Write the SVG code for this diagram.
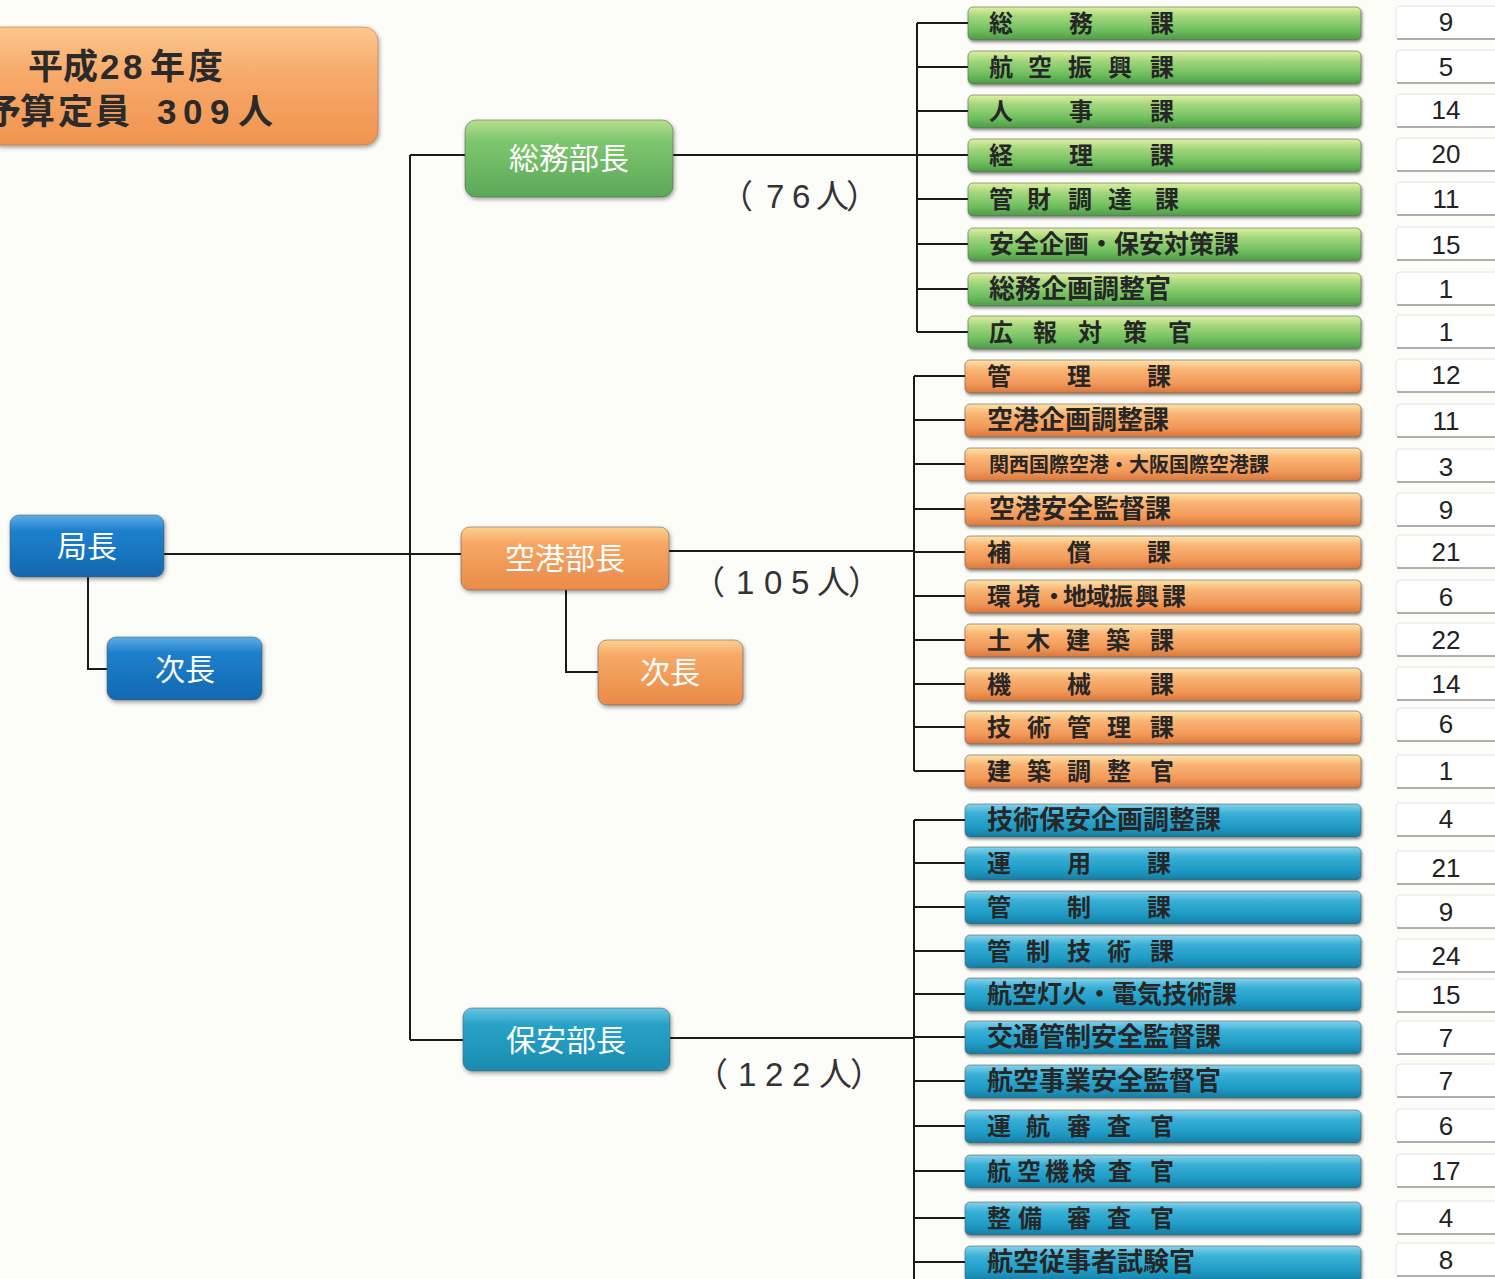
<svg xmlns="http://www.w3.org/2000/svg" width="1495" height="1279" viewBox="0 0 1495 1279">
<defs>
<linearGradient id="gBarG" x1="0" y1="0" x2="0" y2="1"><stop offset="0" stop-color="#dff0a0"/><stop offset="0.3" stop-color="#a2d67c"/><stop offset="0.7" stop-color="#6fbf5f"/><stop offset="1" stop-color="#4f9a48"/></linearGradient>
<linearGradient id="gBarO" x1="0" y1="0" x2="0" y2="1"><stop offset="0" stop-color="#fde3a8"/><stop offset="0.3" stop-color="#f9b474"/><stop offset="0.7" stop-color="#f29a5a"/><stop offset="1" stop-color="#d9783c"/></linearGradient>
<linearGradient id="gBarB" x1="0" y1="0" x2="0" y2="1"><stop offset="0" stop-color="#86d2ea"/><stop offset="0.3" stop-color="#38afd6"/><stop offset="0.7" stop-color="#1f9bc5"/><stop offset="1" stop-color="#167da3"/></linearGradient>
<linearGradient id="gNodeG" x1="0" y1="0" x2="0" y2="1"><stop offset="0" stop-color="#b8e08e"/><stop offset="0.25" stop-color="#80c76f"/><stop offset="1" stop-color="#5aa858"/></linearGradient>
<linearGradient id="gNodeO" x1="0" y1="0" x2="0" y2="1"><stop offset="0" stop-color="#fdd08e"/><stop offset="0.25" stop-color="#f6a865"/><stop offset="1" stop-color="#ea8a48"/></linearGradient>
<linearGradient id="gNodeB" x1="0" y1="0" x2="0" y2="1"><stop offset="0" stop-color="#5eaee6"/><stop offset="0.25" stop-color="#1e80cc"/><stop offset="1" stop-color="#1368b0"/></linearGradient>
<linearGradient id="gNodeT" x1="0" y1="0" x2="0" y2="1"><stop offset="0" stop-color="#6cc6e2"/><stop offset="0.25" stop-color="#28a3c8"/><stop offset="1" stop-color="#1a8bb0"/></linearGradient>
<linearGradient id="gTitle" x1="0" y1="0" x2="0" y2="1"><stop offset="0" stop-color="#fcc88e"/><stop offset="0.4" stop-color="#f7aa6a"/><stop offset="1" stop-color="#f09450"/></linearGradient>
<filter id="sh" x="-5%" y="-20%" width="110%" height="150%"><feDropShadow dx="1" dy="2" stdDeviation="1.5" flood-color="#000" flood-opacity="0.45"/></filter>
<filter id="shn" x="-10%" y="-20%" width="120%" height="150%"><feDropShadow dx="1" dy="2" stdDeviation="2" flood-color="#000" flood-opacity="0.4"/></filter>
</defs>
<style>
.bar{stroke:#5a5a5a;stroke-opacity:0.55;stroke-width:1;filter:url(#sh)}
.bt{font-family:"Noto Sans CJK JP",sans-serif;font-weight:700;font-size:24px;fill:#262626}
.nb{fill:#ffffff;stroke:#e4e4e4;stroke-width:1}
.nbl{stroke:#9a9a9a;stroke-width:1.5}
.num{font-family:"Liberation Sans","Noto Sans CJK JP",sans-serif;font-size:26px;fill:#222;text-anchor:middle}
.node{stroke:#555;stroke-opacity:0.5;stroke-width:1;filter:url(#shn)}
.nt{font-family:"Noto Sans CJK JP",sans-serif;font-size:30px;fill:#ffffff;text-anchor:middle}
.lbl{font-family:"Liberation Sans","Noto Sans CJK JP",sans-serif;font-size:33px;fill:#333}
.ttl{font-family:"Liberation Sans","Noto Sans CJK JP",sans-serif;font-weight:700;font-size:35px;fill:#2a2a2a}
.cn{stroke:#1a1a1a;stroke-width:2;fill:none}
</style>
<rect width="1495" height="1279" fill="#fcfcf9"/>

<g id="title">
<rect x="-12" y="27" width="390" height="118" rx="14" fill="url(#gTitle)" stroke="#b06a3a" stroke-opacity="0.5" filter="url(#shn)"/>
<text class="ttl" x="28 63 100 123 150 188" y="79">平成28年度</text>
<text class="ttl" x="-14 20 58 95 157 183 210 238" y="124">予算定員309人</text>
</g>

<g id="connectors">
<path class="cn" d="M88 577V669H107"/>
<path class="cn" d="M164 554H461"/>
<path class="cn" d="M410 155V1040"/>
<path class="cn" d="M410 155H465"/>
<path class="cn" d="M410 1040H463"/>
<path class="cn" d="M566 590V672H598"/>
<path class="cn" d="M673 155H917"/>
<path class="cn" d="M669 551H914"/>
<path class="cn" d="M670 1038H914"/>
<path class="cn" d="M917 23V332"/>
<path class="cn" d="M917 23H968M917 67H968M917 111H968M917 155H968M917 199H968M917 244H968M917 289H968M917 332H968"/>
<path class="cn" d="M914 376V771"/>
<path class="cn" d="M914 376H965M914 420H965M914 464H965M914 509H965M914 552H965M914 596H965M914 640H965M914 684H965M914 727H965M914 771H965"/>
<path class="cn" d="M914 820V1279"/>
<path class="cn" d="M914 820H965M914 863H965M914 907H965M914 951H965M914 994H965M914 1037H965M914 1081H965M914 1126H965M914 1171H965M914 1218H965M914 1262H965"/>
</g>

<g id="kyokucho"><rect class="node" x="10" y="515" width="154" height="62" rx="9" fill="url(#gNodeB)"/><text class="nt" x="87" y="557">局長</text></g>
<g id="jicho1"><rect class="node" x="107" y="637" width="155" height="63" rx="9" fill="url(#gNodeB)"/><text class="nt" x="185" y="680">次長</text></g>
<g id="somubucho"><rect class="node" x="465" y="120" width="208" height="77" rx="11" fill="url(#gNodeG)"/><text class="nt" x="569" y="169">総務部長</text></g>
<g id="kukobucho"><rect class="node" x="461" y="527" width="208" height="63" rx="9" fill="url(#gNodeO)"/><text class="nt" x="565" y="569">空港部長</text></g>
<g id="jicho2"><rect class="node" x="598" y="640" width="145" height="65" rx="9" fill="url(#gNodeO)"/><text class="nt" x="670" y="683">次長</text></g>
<g id="hoanbucho"><rect class="node" x="463" y="1008" width="207" height="63" rx="9" fill="url(#gNodeT)"/><text class="nt" x="566" y="1051">保安部長</text></g>

<g id="labels">
<text class="lbl" x="720 766 792 816 846" y="208">（76人）</text>
<text class="lbl" x="692 736 764 791 817 848" y="594">（105人）</text>
<text class="lbl" x="695 738 765 792 819 850" y="1086">（122人）</text>
</g>

<g id="green-bars">
<g id="r1"><rect class="bar" x="968" y="7" width="393" height="33" rx="5" fill="url(#gBarG)"/><text class="bt" x="989 1069 1150" y="32">総務課</text></g>
<g id="r2"><rect class="bar" x="968" y="51" width="393" height="33" rx="5" fill="url(#gBarG)"/><text class="bt" x="989 1028 1068 1108 1150" y="76">航空振興課</text></g>
<g id="r3"><rect class="bar" x="968" y="95" width="393" height="33" rx="5" fill="url(#gBarG)"/><text class="bt" x="989 1069 1150" y="120">人事課</text></g>
<g id="r4"><rect class="bar" x="968" y="139" width="393" height="33" rx="5" fill="url(#gBarG)"/><text class="bt" x="989 1069 1150" y="164">経理課</text></g>
<g id="r5"><rect class="bar" x="968" y="183" width="393" height="33" rx="5" fill="url(#gBarG)"/><text class="bt" x="989 1027 1068 1108 1155" y="208">管財調達課</text></g>
<g id="r6"><rect class="bar" x="968" y="228" width="393" height="33" rx="5" fill="url(#gBarG)"/><text class="bt" x="989" y="253" style="font-size:25px">安全企画・保安対策課</text></g>
<g id="r7"><rect class="bar" x="968" y="273" width="393" height="33" rx="5" fill="url(#gBarG)"/><text class="bt" x="989" y="298" style="font-size:26px">総務企画調整官</text></g>
<g id="r8"><rect class="bar" x="968" y="316" width="393" height="33" rx="5" fill="url(#gBarG)"/><text class="bt" x="989 1033 1078 1123 1168" y="341">広報対策官</text></g>
</g>

<g id="orange-bars">
<g id="r9"><rect class="bar" x="965" y="360" width="396" height="33" rx="5" fill="url(#gBarO)"/><text class="bt" x="987 1067 1147" y="385">管理課</text></g>
<g id="r10"><rect class="bar" x="965" y="404" width="396" height="33" rx="5" fill="url(#gBarO)"/><text class="bt" x="987" y="429" style="font-size:26px">空港企画調整課</text></g>
<g id="r11"><rect class="bar" x="965" y="448" width="396" height="33" rx="5" fill="url(#gBarO)"/><text class="bt" x="989" y="472" style="font-size:20px">関西国際空港・大阪国際空港課</text></g>
<g id="r12"><rect class="bar" x="965" y="493" width="396" height="33" rx="5" fill="url(#gBarO)"/><text class="bt" x="989" y="518" style="font-size:26px">空港安全監督課</text></g>
<g id="r13"><rect class="bar" x="965" y="536" width="396" height="33" rx="5" fill="url(#gBarO)"/><text class="bt" x="987 1067 1147" y="561">補償課</text></g>
<g id="r14"><rect class="bar" x="965" y="580" width="396" height="33" rx="5" fill="url(#gBarO)"/><text class="bt" x="987 1016 1042 1063 1086 1109 1135 1162" y="605">環境・地域振興課</text></g>
<g id="r15"><rect class="bar" x="965" y="624" width="396" height="33" rx="5" fill="url(#gBarO)"/><text class="bt" x="987 1026 1066 1106 1150" y="649">土木建築課</text></g>
<g id="r16"><rect class="bar" x="965" y="668" width="396" height="33" rx="5" fill="url(#gBarO)"/><text class="bt" x="987 1067 1150" y="693">機械課</text></g>
<g id="r17"><rect class="bar" x="965" y="711" width="396" height="33" rx="5" fill="url(#gBarO)"/><text class="bt" x="987 1027 1067 1107 1150" y="736">技術管理課</text></g>
<g id="r18"><rect class="bar" x="965" y="755" width="396" height="33" rx="5" fill="url(#gBarO)"/><text class="bt" x="987 1027 1067 1107 1150" y="780">建築調整官</text></g>
</g>

<g id="blue-bars">
<g id="r19"><rect class="bar" x="965" y="804" width="396" height="33" rx="5" fill="url(#gBarB)"/><text class="bt" x="987" y="829" style="font-size:26px">技術保安企画調整課</text></g>
<g id="r20"><rect class="bar" x="965" y="847" width="396" height="33" rx="5" fill="url(#gBarB)"/><text class="bt" x="987 1067 1147" y="872">運用課</text></g>
<g id="r21"><rect class="bar" x="965" y="891" width="396" height="33" rx="5" fill="url(#gBarB)"/><text class="bt" x="987 1067 1147" y="916">管制課</text></g>
<g id="r22"><rect class="bar" x="965" y="935" width="396" height="33" rx="5" fill="url(#gBarB)"/><text class="bt" x="987 1026 1067 1107 1150" y="960">管制技術課</text></g>
<g id="r23"><rect class="bar" x="965" y="978" width="396" height="33" rx="5" fill="url(#gBarB)"/><text class="bt" x="987" y="1003" style="font-size:25px">航空灯火・電気技術課</text></g>
<g id="r24"><rect class="bar" x="965" y="1021" width="396" height="33" rx="5" fill="url(#gBarB)"/><text class="bt" x="987" y="1046" style="font-size:26px">交通管制安全監督課</text></g>
<g id="r25"><rect class="bar" x="965" y="1065" width="396" height="33" rx="5" fill="url(#gBarB)"/><text class="bt" x="987" y="1090" style="font-size:26px">航空事業安全監督官</text></g>
<g id="r26"><rect class="bar" x="965" y="1110" width="396" height="33" rx="5" fill="url(#gBarB)"/><text class="bt" x="987 1026 1067 1107 1150" y="1135">運航審査官</text></g>
<g id="r27"><rect class="bar" x="965" y="1155" width="396" height="33" rx="5" fill="url(#gBarB)"/><text class="bt" x="987 1017 1045 1072 1108 1150" y="1180">航空機検査官</text></g>
<g id="r28"><rect class="bar" x="965" y="1202" width="396" height="33" rx="5" fill="url(#gBarB)"/><text class="bt" x="987 1018 1067 1107 1150" y="1227">整備審査官</text></g>
<g id="r29"><rect class="bar" x="965" y="1246" width="396" height="36" rx="5" fill="url(#gBarB)"/><text class="bt" x="987" y="1271" style="font-size:26px">航空従事者試験官</text></g>
</g>

<g id="numbers">
<g><rect class="nb" x="1396" y="6" width="110" height="33" rx="4"/><path class="nbl" d="M1397 39H1495"/><text class="num" x="1446" y="31">9</text></g>
<g><rect class="nb" x="1396" y="50" width="110" height="33" rx="4"/><path class="nbl" d="M1397 83H1495"/><text class="num" x="1446" y="76">5</text></g>
<g><rect class="nb" x="1396" y="94" width="110" height="33" rx="4"/><path class="nbl" d="M1397 127H1495"/><text class="num" x="1446" y="119">14</text></g>
<g><rect class="nb" x="1396" y="138" width="110" height="33" rx="4"/><path class="nbl" d="M1397 171H1495"/><text class="num" x="1446" y="163">20</text></g>
<g><rect class="nb" x="1396" y="182" width="110" height="33" rx="4"/><path class="nbl" d="M1397 215H1495"/><text class="num" x="1446" y="208">11</text></g>
<g><rect class="nb" x="1396" y="227" width="110" height="33" rx="4"/><path class="nbl" d="M1397 260H1495"/><text class="num" x="1446" y="254">15</text></g>
<g><rect class="nb" x="1396" y="272" width="110" height="33" rx="4"/><path class="nbl" d="M1397 305H1495"/><text class="num" x="1446" y="298">1</text></g>
<g><rect class="nb" x="1396" y="315" width="110" height="33" rx="4"/><path class="nbl" d="M1397 348H1495"/><text class="num" x="1446" y="341">1</text></g>
<g><rect class="nb" x="1396" y="359" width="110" height="33" rx="4"/><path class="nbl" d="M1397 392H1495"/><text class="num" x="1446" y="384">12</text></g>
<g><rect class="nb" x="1396" y="404" width="110" height="33" rx="4"/><path class="nbl" d="M1397 437H1495"/><text class="num" x="1446" y="430">11</text></g>
<g><rect class="nb" x="1396" y="449" width="110" height="33" rx="4"/><path class="nbl" d="M1397 482H1495"/><text class="num" x="1446" y="476">3</text></g>
<g><rect class="nb" x="1396" y="493" width="110" height="33" rx="4"/><path class="nbl" d="M1397 526H1495"/><text class="num" x="1446" y="519">9</text></g>
<g><rect class="nb" x="1396" y="535" width="110" height="33" rx="4"/><path class="nbl" d="M1397 568H1495"/><text class="num" x="1446" y="561">21</text></g>
<g><rect class="nb" x="1396" y="580" width="110" height="33" rx="4"/><path class="nbl" d="M1397 613H1495"/><text class="num" x="1446" y="606">6</text></g>
<g><rect class="nb" x="1396" y="623" width="110" height="33" rx="4"/><path class="nbl" d="M1397 656H1495"/><text class="num" x="1446" y="649">22</text></g>
<g><rect class="nb" x="1396" y="667" width="110" height="33" rx="4"/><path class="nbl" d="M1397 700H1495"/><text class="num" x="1446" y="693">14</text></g>
<g><rect class="nb" x="1396" y="708" width="110" height="33" rx="4"/><path class="nbl" d="M1397 741H1495"/><text class="num" x="1446" y="733">6</text></g>
<g><rect class="nb" x="1396" y="755" width="110" height="33" rx="4"/><path class="nbl" d="M1397 788H1495"/><text class="num" x="1446" y="780">1</text></g>
<g><rect class="nb" x="1396" y="803" width="110" height="33" rx="4"/><path class="nbl" d="M1397 836H1495"/><text class="num" x="1446" y="828">4</text></g>
<g><rect class="nb" x="1396" y="851" width="110" height="33" rx="4"/><path class="nbl" d="M1397 884H1495"/><text class="num" x="1446" y="877">21</text></g>
<g><rect class="nb" x="1396" y="895" width="110" height="33" rx="4"/><path class="nbl" d="M1397 928H1495"/><text class="num" x="1446" y="921">9</text></g>
<g><rect class="nb" x="1396" y="939" width="110" height="33" rx="4"/><path class="nbl" d="M1397 972H1495"/><text class="num" x="1446" y="965">24</text></g>
<g><rect class="nb" x="1396" y="979" width="110" height="33" rx="4"/><path class="nbl" d="M1397 1012H1495"/><text class="num" x="1446" y="1004">15</text></g>
<g><rect class="nb" x="1396" y="1021" width="110" height="33" rx="4"/><path class="nbl" d="M1397 1054H1495"/><text class="num" x="1446" y="1047">7</text></g>
<g><rect class="nb" x="1396" y="1064" width="110" height="33" rx="4"/><path class="nbl" d="M1397 1097H1495"/><text class="num" x="1446" y="1090">7</text></g>
<g><rect class="nb" x="1396" y="1109" width="110" height="33" rx="4"/><path class="nbl" d="M1397 1142H1495"/><text class="num" x="1446" y="1135">6</text></g>
<g><rect class="nb" x="1396" y="1154" width="110" height="33" rx="4"/><path class="nbl" d="M1397 1187H1495"/><text class="num" x="1446" y="1180">17</text></g>
<g><rect class="nb" x="1396" y="1201" width="110" height="33" rx="4"/><path class="nbl" d="M1397 1234H1495"/><text class="num" x="1446" y="1227">4</text></g>
<g><rect class="nb" x="1396" y="1243" width="110" height="33" rx="4"/><path class="nbl" d="M1397 1276H1495"/><text class="num" x="1446" y="1269">8</text></g>
</g>
</svg>
